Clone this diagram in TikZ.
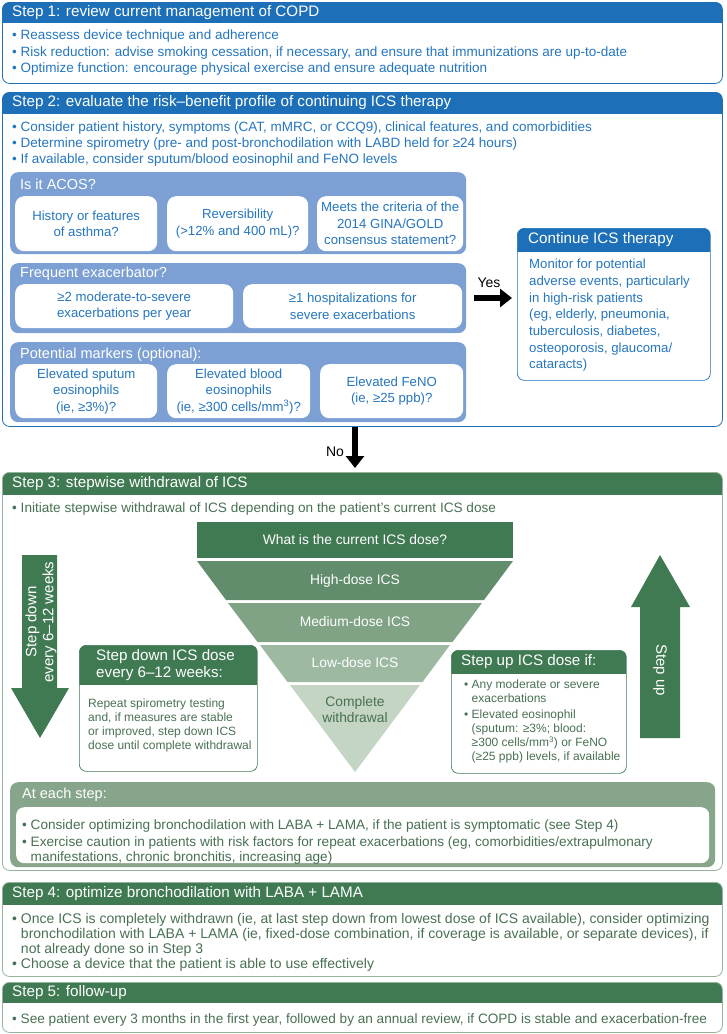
\documentclass[tikz,border=0pt]{standalone}
\usepackage{fontspec}
\setmainfont{Liberation Sans}
\usetikzlibrary{arrows.meta,positioning}

\definecolor{hdrblue}{RGB}{29,112,183}
\definecolor{txtblue}{RGB}{37,118,190}
\definecolor{panelblue}{RGB}{125,160,212}
\definecolor{hdrgreen}{RGB}{64,122,83}
\definecolor{txtgreen}{RGB}{72,112,82}
\definecolor{panelgreen}{RGB}{135,165,138}
\definecolor{linegreen}{RGB}{150,180,155}
\definecolor{funA}{RGB}{64,122,83}
\definecolor{funB}{RGB}{98,141,108}
\definecolor{funC}{RGB}{128,162,133}
\definecolor{funD}{RGB}{158,185,161}
\definecolor{funE}{RGB}{196,213,196}

\newcommand{\hangbullet}{\hphantom{\textbullet\ }}

\begin{document}
\begin{tikzpicture}[x=1pt,y=-1pt,
  stepframe/.style n args={3}{draw=#1, line width=0.8pt, rounded corners=7pt, inner sep=0pt, anchor=north west,
    path picture={\fill[#2, sharp corners] (path picture bounding box.north west) rectangle ([yshift=-#3]path picture bounding box.north east);}},
  hdr/.style={text=white, anchor=west, inner sep=0pt, font=\fontsize{15.2}{17}\selectfont},
  bluetext/.style={text=txtblue, anchor=north west, inner sep=0pt, align=left, font=\fontsize{13.5}{16.5}\selectfont},
  greentext/.style={text=txtgreen, anchor=north west, inner sep=0pt, align=left, font=\fontsize{13.6}{15}\selectfont},
  smallgreen/.style={greentext, font=\fontsize{12}{14}\selectfont},
  panel/.style={fill=#1, rounded corners=8pt, inner sep=0pt, anchor=north west},
  subbox/.style={fill=white, rounded corners=9pt, text=txtblue, align=center, inner sep=0pt, anchor=north west, font=\fontsize{13.2}{16.5}\selectfont},
  paneltitle/.style={text=white, anchor=west, inner sep=0pt, font=\fontsize{14.5}{17}\selectfont},
  fatarrow/.style={line width=6pt, -{Triangle[length=12pt,width=18pt]}},
  arrowlabel/.style={font=\fontsize{14}{16}\selectfont, inner sep=0pt},
  funtext/.style={text=white, font=\fontsize{13.8}{16}\selectfont, align=center, inner sep=0pt},
  bigarrowtext/.style={text=white, font=\fontsize{15}{17}\selectfont, align=center, inner sep=0pt},
  ]
\useasboundingbox (0,0) rectangle (726,1034);

\node[stepframe={hdrblue}{hdrblue}{21pt}, minimum width=720, minimum height=81] (step1) at (2,2) {};
\node[hdr] (step1title) at (12,12.5) {Step 1: review current management of COPD};
\node[bluetext] (step1list) at (12,30) {\textbullet\ Reassess device technique and adherence\\
  \textbullet\ Risk reduction: advise smoking cessation, if necessary, and ensure that immunizations are up-to-date\\
  \textbullet\ Optimize function: encourage physical exercise and ensure adequate nutrition};

\node[stepframe={hdrblue}{hdrblue}{22pt}, minimum width=720, minimum height=334] (step2) at (2,92) {};
\node[hdr] (step2title) at (12,103) {Step 2: evaluate the risk–benefit profile of continuing ICS therapy};
\node[bluetext, font=\fontsize{13.5}{16}\selectfont] (step2list) at (12,121.5) {\textbullet\ Consider patient history, symptoms (CAT, mMRC, or CCQ9), clinical features, and comorbidities\\
  \textbullet\ Determine spirometry (pre- and post-bronchodilation with LABD held for ≥24 hours)\\
  \textbullet\ If available, consider sputum/blood eosinophil and FeNO levels};

\node[panel=panelblue, minimum width=456, minimum height=82] (acos) at (10,172) {};
\node[paneltitle] (acostitle) at (20,184) {Is it ACOS?};
\node[subbox, minimum width=142, minimum height=55] (acos1) at (15,196) {History or features\\of asthma?};
\node[subbox, minimum width=141, minimum height=55] (acos2) at (167,196) {Reversibility\\(>12\% and 400 mL)?};
\node[subbox, minimum width=146, minimum height=55] (acos3) at (317,196) {Meets the criteria of the\\2014 GINA/GOLD\\consensus statement?};

\node[panel=panelblue, minimum width=456, minimum height=70] (freq) at (10,263) {};
\node[paneltitle] (freqtitle) at (20,274) {Frequent exacerbator?};
\node[subbox, minimum width=218, minimum height=44] (freq1) at (15,284) {≥2 moderate-to-severe\\exacerbations per year};
\node[subbox, minimum width=219, minimum height=44] (freq2) at (243,284) {≥1 hospitalizations for\\severe exacerbations};

\node[panel=panelblue, minimum width=456, minimum height=80] (mark) at (10,342) {};
\node[paneltitle] (marktitle) at (20,355) {Potential markers (optional):};
\node[subbox, minimum width=142, minimum height=54] (mark1) at (15,364) {Elevated sputum\\eosinophils\\(ie, ≥3\%)?};
\node[subbox, minimum width=143, minimum height=54] (mark2) at (167,364) {Elevated blood\\eosinophils\\(ie, ≥300 cells/mm\textsuperscript{3})?};
\node[subbox, minimum width=143, minimum height=54] (mark3) at (320,364) {Elevated FeNO\\(ie, ≥25 ppb)?};

\node[stepframe={hdrblue}{hdrblue}{24pt}, line width=0.7pt, minimum width=193, minimum height=152] (cont) at (517,228) {};
\node[hdr] (conttitle) at (528,240) {Continue ICS therapy};
\node[bluetext, font=\fontsize{13.2}{16.7}\selectfont] (contlist) at (529,259) {Monitor for potential\\adverse events, particularly\\in high-risk patients\\(eg, elderly, pneumonia,\\tuberculosis, diabetes,\\osteoporosis, glaucoma/\\cataracts)};

\coordinate (yesfrom) at (474,298);
\draw[fatarrow, shorten >=5pt] (yesfrom) -- (yesfrom -| cont.west);
\node[arrowlabel] (yeslabel) at (489,283) {Yes};

\node[stepframe={linegreen}{hdrgreen}{23pt}, minimum width=720, minimum height=398] (step3) at (2,472) {};
\coordinate (nofrom) at (355,427);
\draw[fatarrow, shorten >=4pt] (nofrom) -- (nofrom |- step3.north);
\node[arrowlabel] (nolabel) at (335,452) {No};
\node[hdr] (step3title) at (12,484) {Step 3: stepwise withdrawal of ICS};
\node[greentext] (step3list) at (12,502) {\textbullet\ Initiate stepwise withdrawal of ICS depending on the patient’s current ICS dose};

\fill[funA] (197,522) rectangle (513,558);
\fill[funB] (197,561) -- (513,561) -- (484,600) -- (226,600) -- cycle;
\fill[funC] (228,603) -- (482,603) -- (452.5,642) -- (257.5,642) -- cycle;
\fill[funD] (260,645) -- (450,645) -- (422.5,682) -- (287.5,682) -- cycle;
\fill[funE] (290,685) -- (420,685) -- (355,772) -- cycle;
\node[funtext] (dose) at (355,540) {What is the current ICS dose?};
\node[funtext] (high) at (355,580.5) {High-dose ICS};
\node[funtext] (medium) at (355,622) {Medium-dose ICS};
\node[funtext] (low) at (355,663) {Low-dose ICS};
\node[funtext, text=txtgreen] (complete) at (355,710) {Complete\\withdrawal};

\fill[hdrgreen] (22,555) -- (57,555) -- (57,688) -- (69,688) -- (40,738) -- (11,688) -- (22,688) -- cycle;
\node[bigarrowtext, rotate=90] (downlabel) at (41,622) {Step down\\every 6–12 weeks};
\fill[hdrgreen] (660,555) -- (690,607) -- (680,607) -- (680,738) -- (640,738) -- (640,607) -- (631,607) -- cycle;
\node[bigarrowtext, rotate=-90] (uplabel) at (660,670) {Step up};

\node[stepframe={hdrgreen}{hdrgreen}{40pt}, line width=0.7pt, minimum width=178, minimum height=126] (down) at (79,645) {};
\node[hdr, align=left] (downtitle) at (96,665) {Step down ICS dose\\every 6–12 weeks:};
\node[smallgreen] (downlist) at (88,699) {Repeat spirometry testing\\and, if measures are stable\\or improved, step down ICS\\dose until complete withdrawal};

\node[stepframe={hdrgreen}{hdrgreen}{24pt}, line width=0.7pt, minimum width=175, minimum height=123] (up) at (451,650) {};
\node[hdr] (uptitle) at (461,662) {Step up ICS dose if:};
\node[smallgreen] (uplist) at (464,680) {\textbullet\ Any moderate or severe\\\hangbullet exacerbations\\[1.5pt]
  \textbullet\ Elevated eosinophil\\\hangbullet (sputum: ≥3\%; blood:\\\hangbullet ≥300 cells/mm\textsuperscript{3}) or FeNO\\\hangbullet (≥25 ppb) levels, if available};

\node[panel=panelgreen, minimum width=705, minimum height=85] (each) at (10,782) {};
\node[paneltitle] (eachtitle) at (22,795) {At each step:};
\node[panel=white, minimum width=693, minimum height=56] (eachbox) at (16,807) {};
\node[greentext] (eachlist) at (22,819) {\textbullet\ Consider optimizing bronchodilation with LABA + LAMA, if the patient is symptomatic (see Step 4)\\[2pt]
  \textbullet\ Exercise caution in patients with risk factors for repeat exacerbations (eg, comorbidities/extrapulmonary\\\hangbullet manifestations, chronic bronchitis, increasing age)};

\node[stepframe={linegreen}{hdrgreen}{23pt}, minimum width=720, minimum height=94] (step4) at (2,882) {};
\node[hdr] (step4title) at (12,893.5) {Step 4: optimize bronchodilation with LABA + LAMA};
\node[greentext, font=\fontsize{14}{15}\selectfont] (step4list) at (12,913) {\textbullet\ Once ICS is completely withdrawn (ie, at last step down from lowest dose of ICS available), consider optimizing\\
  \hangbullet bronchodilation with LABA + LAMA (ie, fixed-dose combination, if coverage is available, or separate devices), if\\
  \hangbullet not already done so in Step 3\\
  \textbullet\ Choose a device that the patient is able to use effectively};

\node[stepframe={linegreen}{hdrgreen}{21pt}, minimum width=720, minimum height=50] (step5) at (2,982) {};
\node[hdr] (step5title) at (12,992.5) {Step 5: follow-up};
\node[greentext] (step5list) at (12,1013) {\textbullet\ See patient every 3 months in the first year, followed by an annual review, if COPD is stable and exacerbation-free};
\end{tikzpicture}
\end{document}
